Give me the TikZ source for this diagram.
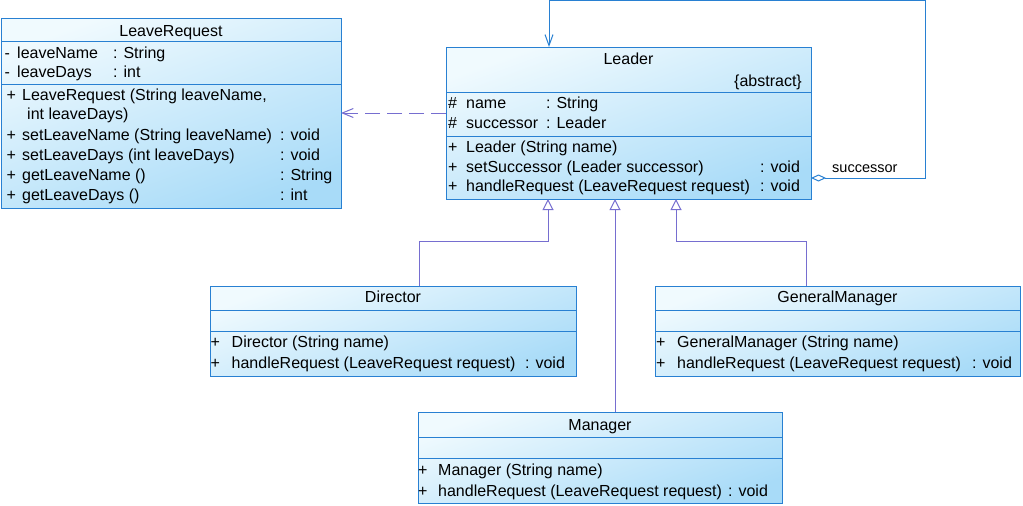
\documentclass[tikz,border=0pt]{standalone}
\usepackage{fontspec}
\setmainfont{Liberation Sans}
\usetikzlibrary{arrows.meta}
\definecolor{bord}{RGB}{40,128,210}
\definecolor{fillA}{RGB}{240,250,254}
\definecolor{fillB}{RGB}{168,219,248}
\definecolor{genc}{RGB}{118,110,208}
\newcounter{tn}
\newcommand\tx[3]{\stepcounter{tn}\node[txt] (t\arabic{tn}) at (#1,#2) {#3};}
\newcommand\tc[3]{\stepcounter{tn}\node[txt,anchor=base] (t\arabic{tn}) at (#1,#2) {#3};}
\begin{document}
\begin{tikzpicture}[x=1pt,y=-1pt,
  cls/.style={draw=bord, line width=1pt, top color=fillA, bottom color=fillB,
    shading angle=20, rectangle, inner sep=0pt, outer sep=0pt},
  txt/.style={anchor=base west, inner sep=0pt, font=\fontsize{16}{19}\selectfont},
  divl/.style={draw=bord, line width=1pt},
  gen/.style={draw=genc, line width=1pt, -{Triangle[open,length=11pt,width=11pt,fill=white]}},
  dep/.style={draw=genc, line width=1pt, dash pattern=on 15pt off 7pt, -{Straight Barb[length=11pt,width=9pt]}},
  assoc/.style={draw=bord, line width=1pt,
    {Diamond[open,length=15pt,width=7pt,fill=white]}-{Straight Barb[length=11pt,width=8pt]}}]
\useasboundingbox (0,0) rectangle (1023,506);

% ---- class boxes
\node[cls, minimum width=340pt, minimum height=190pt] (leave) at (171,113) {};
\node[cls, minimum width=365pt, minimum height=152pt] (leader) at (628.5,123) {};
\node[cls, minimum width=366pt, minimum height=90pt] (director) at (393,331) {};
\node[cls, minimum width=365pt, minimum height=90pt] (gm) at (837.5,331) {};
\node[cls, minimum width=364pt, minimum height=91pt] (manager) at (600,457.5) {};

% ---- dividers
\draw[divl] (leave.west |- 0,41.5) -- (leave.east |- 0,41.5);
\draw[divl] (leave.west |- 0,84.5) -- (leave.east |- 0,84.5);
\draw[divl] (leader.west |- 0,92.5) -- (leader.east |- 0,92.5);
\draw[divl] (leader.west |- 0,136.5) -- (leader.east |- 0,136.5);
\draw[divl] (director.west |- 0,310) -- (director.east |- 0,310);
\draw[divl] (director.west |- 0,331.5) -- (director.east |- 0,331.5);
\draw[divl] (gm.west |- 0,310) -- (gm.east |- 0,310);
\draw[divl] (gm.west |- 0,331.5) -- (gm.east |- 0,331.5);
\draw[divl] (manager.west |- 0,437) -- (manager.east |- 0,437);
\draw[divl] (manager.west |- 0,458) -- (manager.east |- 0,458);

% ---- LeaveRequest text
\tc{171}{36}{LeaveRequest}
\tx{4.5}{58}{-}\tx{17}{58}{leaveName}\tx{113}{58}{: String}
\tx{4.5}{77.5}{-}\tx{17}{77.5}{leaveDays}\tx{113}{77.5}{: int}
\tx{6.5}{100}{+}\tx{22}{100}{LeaveRequest (String leaveName,}
\tx{27}{119}{int leaveDays)}
\tx{6.5}{140}{+}\tx{22}{140}{setLeaveName (String leaveName)}\tx{280}{140}{: void}
\tx{6.5}{160}{+}\tx{22}{160}{setLeaveDays (int leaveDays)}\tx{280}{160}{: void}
\tx{6.5}{180}{+}\tx{22}{180}{getLeaveName ()}\tx{280}{180}{: String}
\tx{6.5}{200}{+}\tx{22}{200}{getLeaveDays ()}\tx{280}{200}{: int}

% ---- Leader text
\tc{628.5}{64}{Leader}
\stepcounter{tn}\node[txt,anchor=base east] (t\arabic{tn}) at (802,86) {\{abstract\}};
\tx{448}{108.5}{\#}\tx{466}{108.5}{name}\tx{546}{108.5}{: String}
\tx{448}{128.5}{\#}\tx{466}{128.5}{successor}\tx{546}{128.5}{: Leader}
\tx{448}{152.5}{+}\tx{466}{152.5}{Leader (String name)}
\tx{448}{172}{+}\tx{466}{172}{setSuccessor (Leader successor)}\tx{760}{172}{: void}
\tx{448}{191.5}{+}\tx{466}{191.5}{handleRequest (LeaveRequest request)}\tx{760}{191.5}{: void}

% ---- Director text
\tc{393}{302.5}{Director}
\tx{210.5}{347}{+}\tx{231.5}{347}{Director (String name)}
\tx{210.5}{368}{+}\tx{231.5}{368}{handleRequest (LeaveRequest request)}\tx{525}{368}{: void}

% ---- GeneralManager text
\tc{837.5}{302.5}{GeneralManager}
\tx{656}{347}{+}\tx{677}{347}{GeneralManager (String name)}
\tx{656}{368}{+}\tx{677}{368}{handleRequest (LeaveRequest request)}\tx{972}{368}{: void}

% ---- Manager text
\tc{600}{430}{Manager}
\tx{418}{475.5}{+}\tx{438}{475.5}{Manager (String name)}
\tx{418}{496.5}{+}\tx{438}{496.5}{handleRequest (LeaveRequest request)}\tx{728}{496.5}{: void}

% ---- connectors
\draw[dep] (leader.west |- leave.east) -- (leave.east);
\draw[gen] ([xshift=26pt]director.north) |- ([xshift=-80.5pt,yshift=-42pt]leader.south) -- ([xshift=-80.5pt]leader.south);
\draw[gen] ([xshift=15pt]manager.north) -- ([xshift=-13.5pt]leader.south);
\draw[gen] ([xshift=-31.5pt]gm.north) |- ([xshift=47.5pt,yshift=-42pt]leader.south) -- ([xshift=47.5pt]leader.south);
\draw[assoc] ([yshift=-55pt]leader.east) -- ++(114,0) |- ([xshift=-79.5pt,yshift=46.5pt]leader.north) -- ([xshift=-79.5pt]leader.north);
\node[txt] (succ) at (832,172) {\fontsize{14.5}{17}\selectfont successor};
\end{tikzpicture}
\end{document}
